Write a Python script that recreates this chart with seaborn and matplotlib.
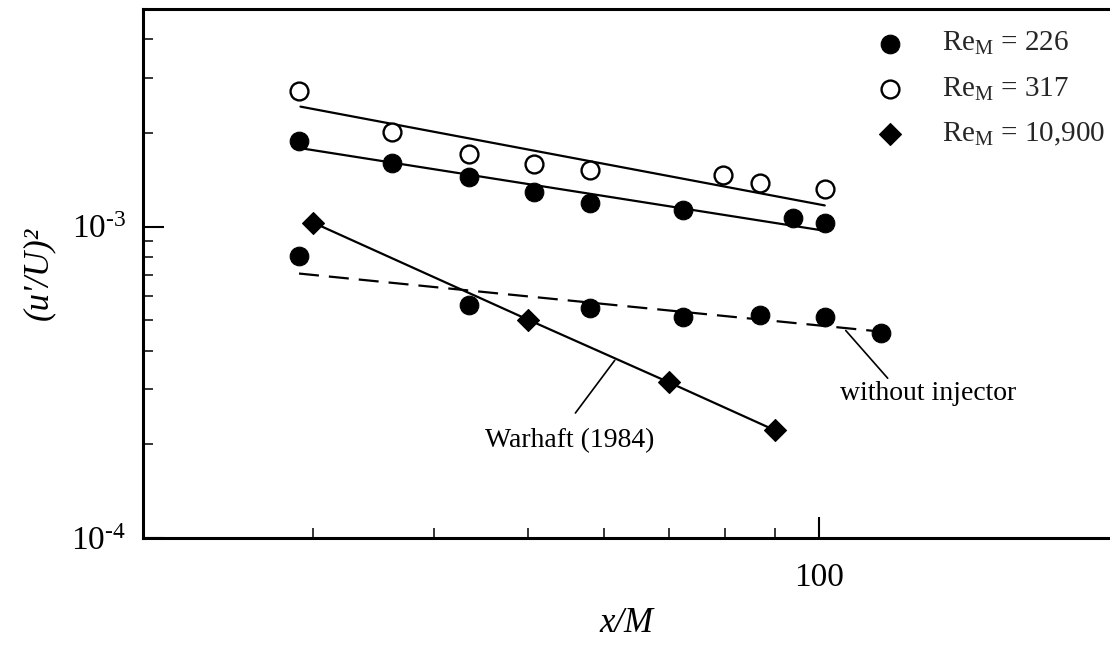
import matplotlib
matplotlib.use("Agg")
import matplotlib.pyplot as plt
import matplotlib.ticker as mticker
import seaborn as sns

# Re_M = 226 with injector (filled circles)
x_re226 = [29.0, 36.2, 43.5, 50.8, 58.0, 72.4, 94.0, 101.4]
y_re226 = [1.89e-3, 1.60e-3, 1.44e-3, 1.29e-3, 1.19e-3, 1.13e-3, 1.07e-3, 1.03e-3]

# Re_M = 317 with injector (open circles)
x_re317 = [29.0, 36.2, 43.5, 50.8, 58.0, 79.6, 86.9, 101.4]
y_re317 = [2.73e-3, 2.02e-3, 1.71e-3, 1.59e-3, 1.52e-3, 1.46e-3, 1.38e-3, 1.32e-3]

# Re_M = 226 without injector (filled circles, dashed fit)
x_noinj = [29.0, 43.5, 58.0, 72.4, 86.9, 101.4, 115.9]
y_noinj = [8.07e-4, 5.62e-4, 5.46e-4, 5.11e-4, 5.19e-4, 5.11e-4, 4.57e-4]

# Warhaft (1984), Re_M = 10,900 (diamonds)
x_warhaft = [30.0, 50.0, 70.0, 90.0]
y_warhaft = [1.03e-3, 5.03e-4, 3.16e-4, 2.22e-4]

# power-law fit lines (end points)
fit317_x = [29.1, 101.4]
fit317_y = [2.43e-3, 1.17e-3]
fit226_x = [29.0, 101.4]
fit226_y = [1.79e-3, 9.70e-4]
fitnoinj_x = [29.0, 116.0]
fitnoinj_y = [7.07e-4, 4.60e-4]

legend_labels = [r"Re$_\mathregular{M}$ = 226",
                 r"Re$_\mathregular{M}$ = 317",
                 r"Re$_\mathregular{M}$ = 10,900"]
ytick_labels = ["10$^{\\mathregular{\u20104}}$", "10$^{\\mathregular{\u20103}}$"]

sns.set_style("ticks")
plt.rcParams["font.family"] = ["Liberation Serif", "DejaVu Serif"]
plt.rcParams["mathtext.fontset"] = "custom"
plt.rcParams["mathtext.rm"] = "Liberation Serif"
plt.rcParams["mathtext.it"] = "Liberation Serif:italic"

fig = plt.figure(figsize=(11.1, 6.47), dpi=100)
ax = fig.add_axes([0.1288, 0.1685, 0.8712, 0.8175])

line_kw = dict(color="black", linewidth=1.6, ax=ax, legend=False)
sns.lineplot(x=fit317_x, y=fit317_y, **line_kw)
sns.lineplot(x=fit226_x, y=fit226_y, **line_kw)
sns.lineplot(x=fitnoinj_x, y=fitnoinj_y, linestyle=(0, (9, 4.5)), **line_kw)
sns.lineplot(x=x_warhaft, y=y_warhaft, **line_kw)

sns.scatterplot(x=x_re226, y=y_re226, marker="o", s=180, color="black",
                edgecolor="black", linewidth=0.8, ax=ax, zorder=3,
                label=legend_labels[0])
sns.scatterplot(x=x_re317, y=y_re317, marker="o", s=165, facecolor="white",
                edgecolor="black", linewidth=1.7, ax=ax, zorder=3,
                label=legend_labels[1])
sns.scatterplot(x=x_warhaft, y=y_warhaft, marker="D", s=125, color="black",
                edgecolor="black", linewidth=0.8, ax=ax, zorder=3,
                label=legend_labels[2])
sns.scatterplot(x=x_noinj, y=y_noinj, marker="o", s=180, color="black",
                edgecolor="black", linewidth=0.8, ax=ax, zorder=3)

# leader lines and their captions
ax.plot([61.5, 56.0], [3.72e-4, 2.52e-4], color="black", linewidth=1.2)
ax.text(55.3, 2.06e-4, "Warhaft (1984)", fontsize=20, ha="center", va="center",
        color="black")
ax.plot([106.6, 117.8], [4.64e-4, 3.26e-4], color="black", linewidth=1.2)
ax.text(129.6, 2.92e-4, "without injector", fontsize=20, ha="center", va="center",
        color="black")

ax.set_xscale("log")
ax.set_yscale("log")
ax.set_xlim(20, 200)
ax.set_ylim(1e-4, 5e-3)

ax.xaxis.set_major_locator(mticker.FixedLocator([100]))
ax.xaxis.set_major_formatter(mticker.FixedFormatter(["100"]))
ax.xaxis.set_minor_locator(mticker.FixedLocator([30, 40, 50, 60, 70, 80, 90]))
ax.xaxis.set_minor_formatter(mticker.NullFormatter())
ax.yaxis.set_major_locator(mticker.FixedLocator([1e-4, 1e-3]))
ax.yaxis.set_major_formatter(mticker.FixedFormatter(ytick_labels))
ax.yaxis.set_minor_locator(mticker.LogLocator(base=10, subs=range(2, 10)))
ax.yaxis.set_minor_formatter(mticker.NullFormatter())

ax.tick_params(which="major", direction="in", length=15, width=1.5,
               labelsize=24, colors="black")
ax.tick_params(axis="x", which="major", pad=18)
ax.tick_params(axis="y", which="major", pad=12)
ax.tick_params(which="minor", direction="in", length=7, width=1.3)
ax.tick_params(top=False, right=False, which="both")

for side in ("left", "bottom", "top"):
    ax.spines[side].set_linewidth(2.2)
    ax.spines[side].set_color("black")
ax.spines["right"].set_visible(False)

ax.set_xlabel("x/M", fontsize=25, fontstyle="italic", labelpad=10, color="black")
ax.set_ylabel("(u'/U)\u00b2", fontsize=25, fontstyle="italic", labelpad=12,
              color="black")

ax.legend(loc="upper left", bbox_to_anchor=(0.757, 0.96), frameon=False,
          fontsize=21, handlelength=1.0, handletextpad=1.3,
          labelspacing=0.62, borderpad=0, borderaxespad=0)

fig.savefig("out.png", dpi=100)
